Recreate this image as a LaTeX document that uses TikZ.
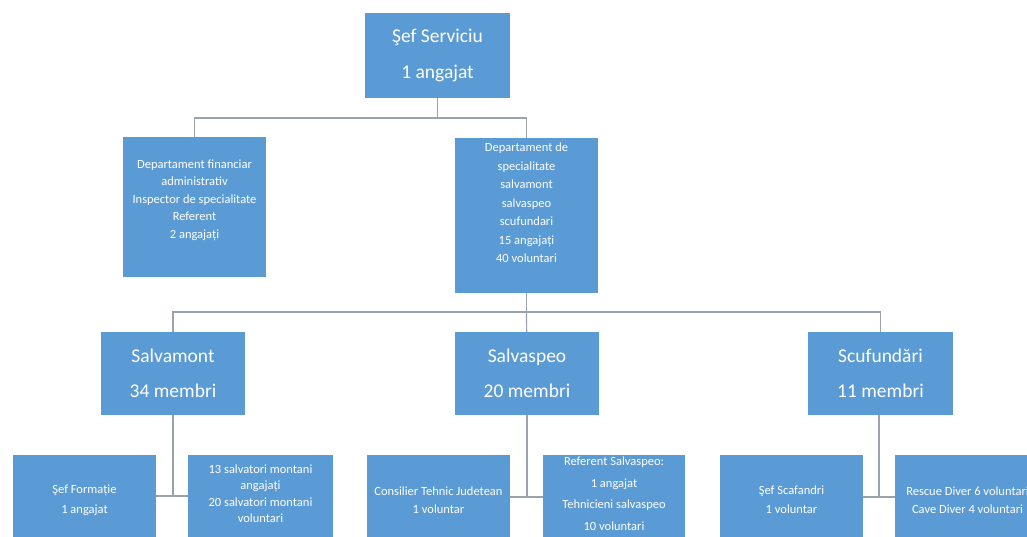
\documentclass[tikz,border=0pt]{standalone}
\usepackage{fontspec}
\setmainfont{Carlito}
\definecolor{boxblue}{RGB}{91,155,213}
\definecolor{linkgray}{RGB}{155,162,172}
\tikzset{
  box/.style={fill=boxblue, inner sep=0pt, minimum width=143pt, text=white, align=center},
  txt/.style={text=white, align=center, inner sep=0pt},
  big/.style={font=\fontsize{19.5}{35.5}\selectfont},
  small/.style={font=\fontsize{12.5}{17.5}\selectfont},
  link/.style={draw=linkgray, line width=1.2pt},
}
\begin{document}
\begin{tikzpicture}[x=1pt,y=-1pt]
\useasboundingbox (0,0) rectangle (1027,536);
\clip (0,0) rectangle (1027,536);

% conducere
\node[box, big, minimum width=145pt, minimum height=85pt] (sef) at (437.5,55.5) {Şef Serviciu\\1 angajat};

% departamente
\node[box, minimum height=140pt] (fin) at (194.5,207) {};
\node[txt, small] (finT) at (194.5,200) {Departament financiar\\administrativ\\Inspector de specialitate\\Referent\\2 angajați};
\node[box, minimum height=155pt] (spec) at (526.5,215.5) {};
\node[txt, font=\fontsize{12.5}{18.5}\selectfont] (specT) at (526.5,203) {Departament de\\specialitate\\salvamont\\salvaspeo\\scufundari\\15 angajați\\40 voluntari};

% formatii
\node[box, big, minimum width=144pt, minimum height=83pt] (salvamont) at (173,373.5) {Salvamont\\34 membri};
\node[box, big, minimum width=144pt, minimum height=83pt] (salvaspeo) at (527,373.5) {Salvaspeo\\20 membri};
\node[box, big, minimum width=145pt, minimum height=83pt] (scuf) at (880.5,373.5) {Scufundări\\11 membri};

% membri
\node[box, font=\fontsize{12.5}{20}\selectfont, minimum height=90pt] (formatie) at (84.5,500) {Şef Formație\\1 angajat};
\node[box, font=\fontsize{12.5}{16.5}\selectfont, minimum width=145pt, minimum height=90pt] (montani) at (260.5,500) {13 salvatori montani\\angajați\\20 salvatori montani\\voluntari\\[-4pt]};
\node[box, small, minimum height=90pt] (consilier) at (438.5,500) {Consilier Tehnic Judetean\\1 voluntar};
\node[box, font=\fontsize{12.5}{21.5}\selectfont, minimum width=142pt, minimum height=90pt] (referent) at (614,500) {Referent Salvaspeo:\\1 angajat\\Tehnicieni salvaspeo\\10 voluntari\\[-9pt]};
\node[box, font=\fontsize{12.5}{19}\selectfont, minimum height=90pt] (scafandri) at (791.5,500) {Şef Scafandri\\1 voluntar};
\node[box, small, minimum width=145pt, minimum height=90pt] (rescue) at (967.5,500) {Rescue Diver 6 voluntari\\Cave Diver 4 voluntari};

% legaturi
\coordinate (j0) at (437.5,118);
\draw[link] (sef) -- (j0);
\draw[link] (fin.north) |- (j0) -| (spec.north);

\coordinate (j1) at (526.5,312);
\draw[link] (spec) -- (j1);
\draw[link] (salvamont.north) |- (j1) -| (scuf.north);
\draw[link] (j1) -- (salvaspeo);

\coordinate (j2) at (173,496);
\coordinate (j3) at (527,497);
\coordinate (j4) at (879,497);
\draw[link] (salvamont) -- (j2);
\draw[link] (formatie.east |- j2) -- (montani.west |- j2);
\draw[link] (salvaspeo) -- (j3);
\draw[link] (consilier.east |- j3) -- (referent.west |- j3);
\draw[link] (scuf.south -| j4) -- (j4);
\draw[link] (scafandri.east |- j4) -- (rescue.west |- j4);
\end{tikzpicture}
\end{document}
